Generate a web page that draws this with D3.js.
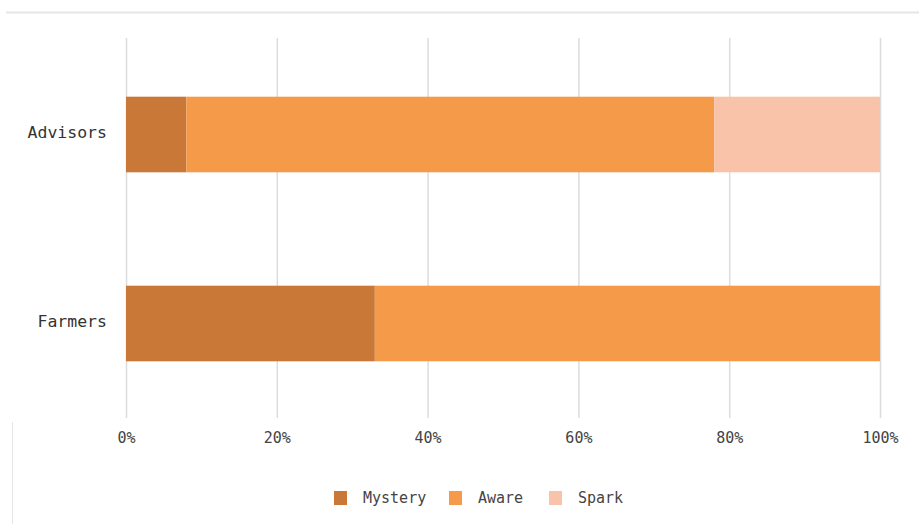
<!DOCTYPE html>
<html>
<head>
<meta charset="utf-8">
<script src="https://cdn.jsdelivr.net/npm/d3@7"></script>
<style>
  body { margin: 0; background: #fff; }
  text { font-family: "DejaVu Sans Mono", monospace; }
</style>
</head>
<body>
<div id="container"></div>
<script>
/* DATA */
const groups = ["Advisors", "Farmers"];
const seriesNames = ["Mystery", "Aware", "Spark"];
const mystery = [8, 33];
const aware = [70, 67];
const spark = [22, 0];
const xTicks = [0, 20, 40, 60, 80, 100];
const colors = ["#c97838", "#f59a48", "#f8c3a8"];

/* CONSTANTS */
const width = 919, height = 524;
const margin = { top: 38, bottom: 106, left: 126, right: 39 };

const svg = d3.select("#container")
  .append("svg")
  .attr("width", width)
  .attr("height", height);

// frame lines around the chart
svg.append("line")
  .attr("x1", 6).attr("x2", width)
  .attr("y1", 12.5).attr("y2", 12.5)
  .attr("stroke", "#e6e6e6").attr("stroke-width", 2);
svg.append("line")
  .attr("x1", 12.5).attr("x2", 12.5)
  .attr("y1", 422).attr("y2", height)
  .attr("stroke", "#e6e6e6").attr("stroke-width", 1);

const xScale = d3.scaleLinear()
  .domain([0, 100])
  .range([margin.left, width - margin.right]);

const yScale = d3.scaleBand()
  .domain(groups)
  .range([40, 418])
  .paddingInner(0.6)
  .paddingOuter(0.3);

const colorScale = d3.scaleOrdinal()
  .domain(seriesNames)
  .range(colors);

// grid
const xAxis = d3.axisBottom(xScale)
  .tickValues(xTicks)
  .tickSize(-(418 - margin.top))
  .tickPadding(14)
  .tickFormat(d => d + "%");

svg.append("g")
  .attr("transform", `translate(0, 418)`)
  .call(xAxis)
  .call(g => g.select(".domain").remove())
  .call(g => g.selectAll(".tick line").attr("stroke", "#dcdcdc").attr("stroke-width", 1.5))
  .call(g => g.selectAll(".tick text").attr("fill", "#444").style("font-size", "15px"));

// stacked bars
const table = groups.map((g, i) => ({ group: g, Mystery: mystery[i], Aware: aware[i], Spark: spark[i] }));
const stacked = d3.stack().keys(seriesNames)(table);

svg.append("g")
  .selectAll("g")
  .data(stacked)
  .join("g")
  .attr("fill", d => colorScale(d.key))
  .selectAll("rect")
  .data(d => d)
  .join("rect")
  .attr("x", d => xScale(d[0]))
  .attr("y", d => yScale(d.data.group))
  .attr("width", d => xScale(d[1]) - xScale(d[0]))
  .attr("height", yScale.bandwidth());

// y labels
const yAxis = d3.axisLeft(yScale).tickSize(0).tickPadding(19);
svg.append("g")
  .attr("transform", `translate(${margin.left}, -2)`)
  .call(yAxis)
  .call(g => g.select(".domain").remove())
  .call(g => g.selectAll(".tick text").attr("fill", "#333").style("font-size", "16.5px"));

// legend
const legendX = [334, 449, 549];
const legend = svg.append("g")
  .selectAll("g")
  .data(seriesNames)
  .join("g")
  .attr("transform", (d, i) => `translate(${legendX[i]}, 498)`);

legend.append("rect")
  .attr("x", 0).attr("y", -7)
  .attr("width", 13).attr("height", 14)
  .attr("fill", d => colorScale(d));

legend.append("text")
  .attr("x", 29).attr("y", 0)
  .attr("dy", "0.35em")
  .attr("fill", "#444")
  .style("font-size", "15px")
  .text(d => d);
</script>
</body>
</html>
